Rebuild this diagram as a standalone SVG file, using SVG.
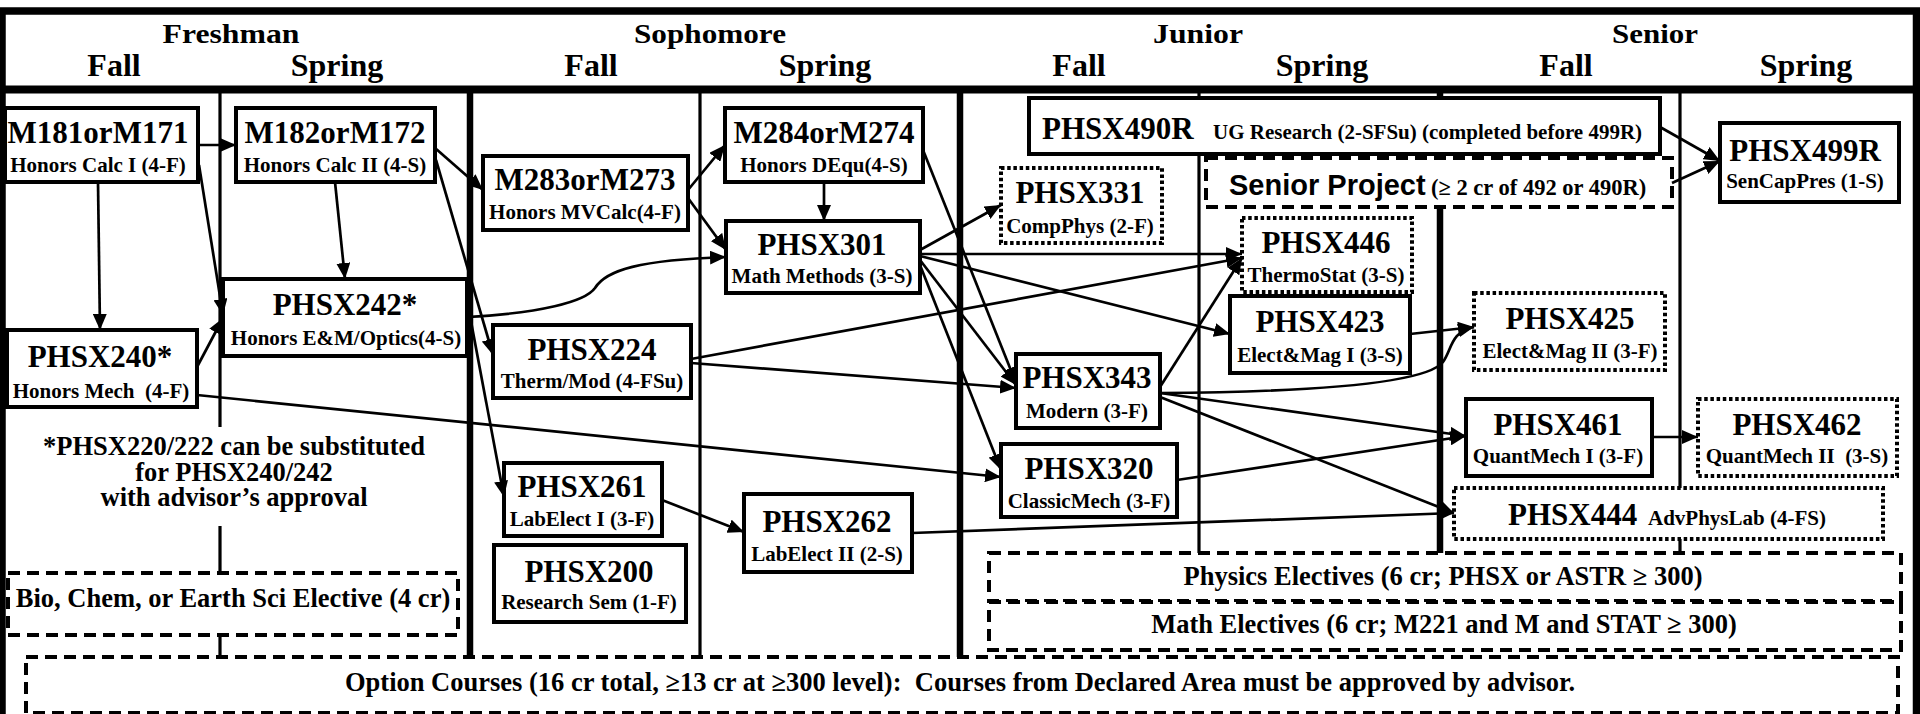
<svg xmlns="http://www.w3.org/2000/svg" width="1920" height="714" viewBox="0 0 1920 714">
<style>
text{font-family:"Liberation Serif","Times New Roman",serif;font-weight:bold;fill:#000}
.yr{font-size:27px;text-anchor:middle}
.sem{font-size:32px;text-anchor:middle}
.t{font-size:31px;text-anchor:middle}
.s{font-size:21px;text-anchor:middle}
.note{font-size:26.5px;text-anchor:middle}
.sans{font-family:"Liberation Sans",Arial,sans-serif;font-size:29px}
.box{fill:#fff;stroke:#000;stroke-width:4}
.dot{fill:#fff;stroke:#000;stroke-width:4;stroke-dasharray:3.5 2.7}
.dash{fill:#fff;stroke:#000;stroke-width:4;stroke-dasharray:12 7}
.thick{stroke:#000;stroke-width:6.5}
.thin{stroke:#000;stroke-width:3.2}
.c{fill:none;stroke:#000;stroke-width:2.7;marker-end:url(#ah)}
</style>
<defs>
<marker id="ah" markerUnits="userSpaceOnUse" markerWidth="16" markerHeight="14" refX="16" refY="7" orient="auto" viewBox="0 0 16 14"><path d="M0,0 L16,7 L0,14 z" fill="#000"/></marker>
</defs>
<rect width="1920" height="714" fill="#fff"/>
<g id="frame">
<rect x="2" y="11" width="1914.5" height="720" fill="none" stroke="#000" stroke-width="7.5"/>
<line x1="0" y1="89.5" x2="1920" y2="89.5" stroke="#000" stroke-width="8"/>
<text class="yr" x="231" y="43" textLength="137" lengthAdjust="spacingAndGlyphs">Freshman</text>
<text class="yr" x="710" y="43" textLength="152" lengthAdjust="spacingAndGlyphs">Sophomore</text>
<text class="yr" x="1198" y="43" textLength="90" lengthAdjust="spacingAndGlyphs">Junior</text>
<text class="yr" x="1655" y="43" textLength="86" lengthAdjust="spacingAndGlyphs">Senior</text>
<text class="sem" x="114" y="76">Fall</text>
<text class="sem" x="337" y="76">Spring</text>
<text class="sem" x="591" y="76">Fall</text>
<text class="sem" x="825" y="76">Spring</text>
<text class="sem" x="1079" y="76">Fall</text>
<text class="sem" x="1322" y="76">Spring</text>
<text class="sem" x="1566" y="76">Fall</text>
<text class="sem" x="1806" y="76">Spring</text>
<line class="thin" x1="220" y1="93" x2="220" y2="427"/>
<line class="thin" x1="220" y1="526" x2="220" y2="657"/>
<line class="thick" x1="470" y1="93" x2="470" y2="657"/>
<line class="thin" x1="700" y1="93" x2="700" y2="657"/>
<line class="thick" x1="960" y1="93" x2="960" y2="657"/>
<line class="thin" x1="1199" y1="93" x2="1199" y2="553"/>
<line class="thick" x1="1440" y1="93" x2="1440" y2="553"/>
<line class="thin" x1="1680" y1="93" x2="1680" y2="553"/>
</g>
<g id="electives">
<g id="option"><rect class="dash" x="26" y="657" width="1872" height="56"/>
<text class="note" x="960" y="691" xml:space="preserve">Option Courses (16 cr total, ≥13 cr at ≥300 level):  Courses from Declared Area must be approved by advisor.</text></g>
<g id="bio"><rect class="dash" x="8" y="573" width="450" height="62"/>
<text class="note" x="233" y="607">Bio, Chem, or Earth Sci Elective (4 cr)</text></g>
<g id="physel"><rect class="dash" x="989" y="553" width="912" height="48"/>
<text class="note" x="1443" y="585">Physics Electives (6 cr; PHSX or ASTR ≥ 300)</text></g>
<g id="mathel"><rect class="dash" x="989" y="602" width="912" height="48"/>
<text class="note" x="1444" y="633">Math Electives (6 cr; M221 and M and STAT ≥ 300)</text></g>
</g>
<g id="footnote">
<text class="note" x="234" y="455">*PHSX220/222 can be substituted</text>
<text class="note" x="234" y="481">for PHSX240/242</text>
<text class="note" x="234" y="506">with advisor’s approval</text>
</g>
<g id="M181"><rect class="box" x="5" y="108" width="193" height="74"/><text class="t" x="98" y="143">M181orM171</text><text class="s" x="98" y="172">Honors Calc I (4-F)</text></g>
<g id="M182"><rect class="box" x="236" y="108" width="199" height="74"/><text class="t" x="335" y="143">M182orM172</text><text class="s" x="335" y="172">Honors Calc II (4-S)</text></g>
<g id="PHSX240"><rect class="box" x="7" y="330" width="190" height="77"/><text class="t" x="100" y="367">PHSX240*</text><text class="s" x="101" y="398" xml:space="preserve">Honors Mech  (4-F)</text></g>
<g id="PHSX242"><rect class="box" x="223" y="279" width="244" height="77"/><text class="t" x="345" y="315">PHSX242*</text><text class="s" x="346" y="345">Honors E&amp;M/Optics(4-S)</text></g>
<g id="M283"><rect class="box" x="483" y="156" width="205" height="74"/><text class="t" x="585" y="190">M283orM273</text><text class="s" x="585" y="219">Honors MVCalc(4-F)</text></g>
<g id="M284"><rect class="box" x="725" y="108" width="198" height="74"/><text class="t" x="824" y="143">M284orM274</text><text class="s" x="824" y="172">Honors DEqu(4-S)</text></g>
<g id="PHSX301"><rect class="box" x="726" y="221" width="194" height="72"/><text class="t" x="822" y="255">PHSX301</text><text class="s" x="822" y="283">Math Methods (3-S)</text></g>
<g id="PHSX224"><rect class="box" x="493" y="325" width="198" height="73"/><text class="t" x="592" y="360">PHSX224</text><text class="s" x="592" y="388">Therm/Mod (4-FSu)</text></g>
<g id="PHSX261"><rect class="box" x="504" y="463" width="158" height="73"/><text class="t" x="582" y="497">PHSX261</text><text class="s" x="582" y="526">LabElect I (3-F)</text></g>
<g id="PHSX200"><rect class="box" x="494" y="545" width="192" height="77"/><text class="t" x="589" y="582">PHSX200</text><text class="s" x="589" y="609">Research Sem (1-F)</text></g>
<g id="PHSX262"><rect class="box" x="744" y="494" width="168" height="78"/><text class="t" x="827" y="532">PHSX262</text><text class="s" x="827" y="561">LabElect II (2-S)</text></g>
<g id="PHSX490R"><rect class="box" x="1029" y="98" width="631" height="56"/><text class="t" x="1042" y="139" style="text-anchor:start">PHSX490R<tspan class="s" x="1213" style="text-anchor:start">UG Research (2-SFSu) (completed before 499R)</tspan></text></g>
<g id="PHSX331"><rect class="dot" x="1001" y="168" width="161" height="75"/><text class="t" x="1080" y="203">PHSX331</text><text class="s" x="1080" y="233">CompPhys (2-F)</text></g>
<g id="SeniorProject"><rect class="dash" x="1206" y="158" width="466" height="49"/><text class="sans" x="1229" y="195">Senior Project<tspan x="1431" style="font-family:'Liberation Serif','Times New Roman',serif;font-size:22.5px">(≥ 2 cr of 492 or 490R)</tspan></text></g>
<g id="PHSX446"><rect class="dot" x="1242" y="218" width="170" height="74"/><text class="t" x="1326" y="253">PHSX446</text><text class="s" x="1326" y="282">ThermoStat (3-S)</text></g>
<g id="PHSX423"><rect class="box" x="1230" y="296" width="180" height="77"/><text class="t" x="1320" y="332">PHSX423</text><text class="s" x="1320" y="362">Elect&amp;Mag I (3-S)</text></g>
<g id="PHSX343"><rect class="box" x="1016" y="354" width="144" height="74"/><text class="t" x="1087" y="388">PHSX343</text><text class="s" x="1087" y="418">Modern (3-F)</text></g>
<g id="PHSX320"><rect class="box" x="1001" y="444" width="176" height="73"/><text class="t" x="1089" y="479">PHSX320</text><text class="s" x="1089" y="508">ClassicMech (3-F)</text></g>
<g id="PHSX499R"><rect class="box" x="1720" y="123" width="179" height="79"/><text class="t" x="1805" y="161">PHSX499R</text><text class="s" x="1805" y="188">SenCapPres (1-S)</text></g>
<g id="PHSX425"><rect class="dot" x="1474" y="293" width="191" height="77"/><text class="t" x="1570" y="329">PHSX425</text><text class="s" x="1570" y="358">Elect&amp;Mag II (3-F)</text></g>
<g id="PHSX461"><rect class="box" x="1466" y="399" width="186" height="77"/><text class="t" x="1558" y="435">PHSX461</text><text class="s" x="1558" y="463">QuantMech I (3-F)</text></g>
<g id="PHSX462"><rect class="dot" x="1698" y="399" width="199" height="77"/><text class="t" x="1797" y="435">PHSX462</text><text class="s" x="1797" y="463" xml:space="preserve">QuantMech II  (3-S)</text></g>
<g id="PHSX444"><rect class="dot" x="1454" y="488" width="429" height="51"/><text class="t" x="1508" y="525" style="text-anchor:start">PHSX444<tspan class="s" x="1648" style="text-anchor:start">AdvPhysLab (4-FS)</tspan></text></g>
<g id="connectors">
<path class="c" d="M198,145 L236,145"/>
<path class="c" d="M98,182 L100,330"/>
<path class="c" d="M199,165 L223,315"/>
<path class="c" d="M197,367 L223,318"/>
<path class="c" d="M335,182 L345,279"/>
<path class="c" d="M435,148 L483,190"/>
<path class="c" d="M436,160 L493,355"/>
<path class="c" d="M467,300 L504,497"/>
<path class="c" d="M467,317 C540,313 585,302 595,288 C606,270 640,260 726,257"/>
<path class="c" d="M688,190 L725,145"/>
<path class="c" d="M688,198 L726,250"/>
<path class="c" d="M824,182 L824,221"/>
<path class="c" d="M691,359 L1242,258"/>
<path class="c" d="M691,363 L1016,388"/>
<path class="c" d="M920,250 L1001,205"/>
<path class="c" d="M920,254 L1242,254"/>
<path class="c" d="M920,256 L1230,334"/>
<path class="c" d="M920,260 L1016,385"/>
<path class="c" d="M920,265 L1001,470"/>
<path class="c" d="M923,150 L1016,383"/>
<path class="c" d="M197,395 L1001,477"/>
<path class="c" d="M662,500 L744,532"/>
<path class="c" d="M912,533 L1454,513"/>
<path class="c" d="M1160,387 L1242,258"/>
<path class="c" d="M1160,393 C1300,392 1425,385 1443,362 C1452,350 1450,332 1474,327"/>
<path class="c" d="M1160,393 L1466,436"/>
<path class="c" d="M1160,397 L1454,513"/>
<path class="c" d="M1177,480 L1466,436"/>
<path class="c" d="M1410,334 L1474,327"/>
<path class="c" d="M1652,437 L1698,437"/>
<path class="c" d="M1660,127 L1720,161"/>
<path class="c" d="M1672,183 L1720,161"/>
</g>
</svg>
